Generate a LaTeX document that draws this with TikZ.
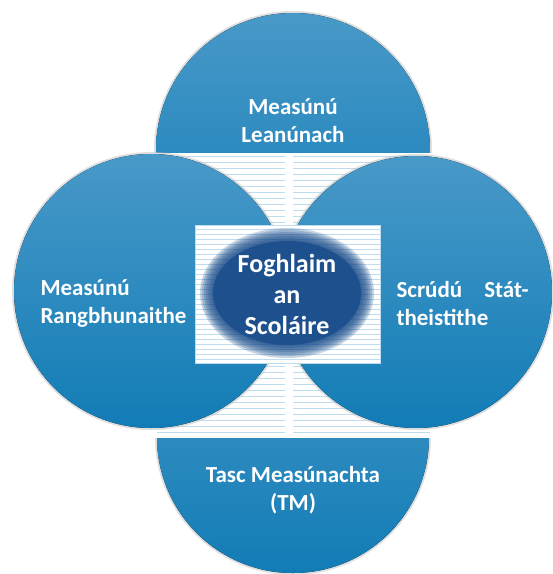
\documentclass[tikz,border=0pt]{standalone}
\usepackage{fontspec}
\setmainfont{Carlito}
\definecolor{circtop}{RGB}{72,153,200}
\definecolor{circbot}{RGB}{18,124,182}
\definecolor{core}{RGB}{30,80,142}
\definecolor{rule}{RGB}{190,220,238}
\tikzset{
  disc/.style={top color=circtop, bottom color=circbot},
  rim/.style={draw=gray!50, line width=4pt, opacity=0.5},
  lbl/.style={text=white, font=\fontsize{23}{28}\selectfont\bfseries},
  corelbl/.style={text=white, font=\fontsize{26}{31}\selectfont\bfseries, align=center}
}
\begin{document}
\begin{tikzpicture}[x=1pt,y=1pt]
      \useasboundingbox (0,0) rectangle (553,-574);
      % striped back panel
      \fill[white] (157,-152) rectangle (430,-438);
      \foreach \y in {156,162,...,436}
        \draw[rule, line width=0.8pt] (157,-\y) -- (430,-\y);
      \fill[white] (285,-152) rectangle (293,-438);
      % top and bottom halves
      \begin{scope}
        \clip (0,0) rectangle (553,-152);
        \draw[rim] (293,-150) circle (137pt);
        \fill[disc] (293,-150) circle (137pt);
      \end{scope}
      \begin{scope}
        \clip (0,-438) rectangle (553,-574);
        \draw[rim] (293,-437) circle (136pt);
        \fill[disc] (293,-437) circle (136pt);
      \end{scope}
      % side discs
      \draw[rim] (151,-291) circle (137pt);
      \fill[disc] (151,-291) circle (137pt);
      \draw[rim] (416,-292) circle (136pt);
      \fill[disc] (416,-292) circle (136pt);
      % centre box
      \draw[rule, fill=white] (195,-225) rectangle (380,-363);
      \foreach \y in {229,234,...,360}
        \draw[rule, line width=0.6pt] (195,-\y) -- (380,-\y);
      \foreach \k in {0,...,6}
        \fill[core, fill opacity=0.25] (287,-293) ellipse [x radius={87-2*\k}, y radius={65-2*\k}];
      \fill[core] (287,-293) ellipse [x radius=74, y radius=52];
      % labels
      \node[lbl, align=center] (ml) at (293,-121) {Measúnú\\Leanúnach};
      \node[lbl, align=left, anchor=west] (mr) at (37,-304) {Measúnú\\Rangbhunaithe};
      \node[lbl, align=left, anchor=west] (ss) at (393,-304) {\hbox to 132pt{Scrúdú\hfill Stát-}\\theistithe};
      \node[lbl, align=center] (tm) at (293,-490) {Tasc Measúnachta\\(TM)};
      \node[corelbl] (fs) at (287,-294) {Foghlaim\\an\\Scoláire};
    \end{tikzpicture}
\end{document}
